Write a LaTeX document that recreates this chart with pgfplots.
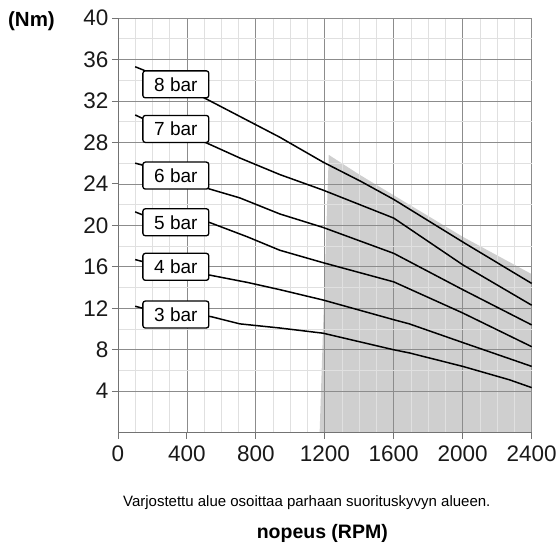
\documentclass[border=0pt]{standalone}
\usepackage{pgfplots}
\pgfplotsset{compat=1.18}
\usepackage{fontspec}
\setmainfont{Liberation Sans}
\begin{document}
\begin{tikzpicture}
\begin{axis}[
  set layers,
  at={(0pt,0pt)}, anchor=south west,
  width=414pt, height=415pt, scale only axis,
  xmin=0, xmax=2400, ymin=0, ymax=40,
  axis x line*=bottom, axis y line*=left,
  axis line style={black!55, line width=0.8pt},
  xtick={0,400,...,2400}, ytick={4,8,...,40},
  minor x tick num=3, minor y tick num=1,
  grid=both,
  major grid style={black!45, line width=0.7pt},
  minor grid style={black!12, line width=0.6pt},
  tick align=outside, major tick length=6pt, minor tick length=0pt,
  tick style={black!55, line width=0.8pt},
  /pgf/number format/assume math mode=true,
  /pgf/number format/1000 sep={},
  ticklabel style={font=\fontsize{22.5}{22.5}\selectfont, text=black!90},
  xticklabel style={yshift=-4pt},
  clip=false,
]
\addplot[draw=none, fill=black!22, fill opacity=0.85, on layer=axis background] coordinates {
 (1170,0) (1223,26.8) (1400,24.9) (1600,22.9) (2000,18.9) (2400,15.3) (2400,0)} -- cycle;

\addplot[black, line width=1.5pt] coordinates {(100,35.3)(145,35.0)(500,32.3)(939,28.5)(1190,26.1)(1414,24.2)(1600,22.5)(2000,18.4)(2400,14.4)};
\addplot[black, line width=1.5pt] coordinates {(100,30.65)(145,30.3)(514,27.95)(707,26.5)(939,24.9)(1190,23.4)(1600,20.7)(2000,16.2)(2400,12.3)};
\addplot[black, line width=1.5pt] coordinates {(100,26.0)(145,25.8)(533,23.5)(707,22.65)(939,21.1)(1190,19.8)(1600,17.3)(2000,13.8)(2400,10.4)};
\addplot[black, line width=1.5pt] coordinates {(100,21.3)(145,21.0)(528,20.3)(750,18.9)(939,17.6)(1190,16.4)(1600,14.55)(2000,11.55)(2400,8.3)};
\addplot[black, line width=1.5pt] coordinates {(100,16.7)(145,16.5)(533,15.2)(750,14.5)(939,13.8)(1190,12.8)(1600,10.9)(1690,10.5)(2000,8.7)(2400,6.4)};
\addplot[black, line width=1.5pt] coordinates {(100,12.2)(145,12.0)(539,11.2)(707,10.5)(939,10.1)(1190,9.6)(1600,8.0)(1690,7.7)(2000,6.4)(2272,5.1)(2400,4.35)};

\tikzset{lbl/.style={draw=black, fill=white, line width=1.3pt, rounded corners=2.5pt,
  minimum width=66pt, minimum height=27pt, inner sep=0pt,
  font=\fontsize{19}{19}\selectfont}}
\node[lbl] at (axis cs:336,33.6) {8 bar};
\node[lbl] at (axis cs:336,29.3) {7 bar};
\node[lbl] at (axis cs:336,24.8) {6 bar};
\node[lbl] at (axis cs:336,20.3) {5 bar};
\node[lbl] at (axis cs:336,16.0) {4 bar};
\node[lbl] at (axis cs:336,11.4) {3 bar};
\end{axis}
\node[font=\bfseries\fontsize{20.5}{20.5}\selectfont] at (-86.5pt,412pt) {(Nm)};
\node[anchor=base, font=\fontsize{15}{15}\selectfont] at (189pt,-74pt) {Varjostettu alue osoittaa parhaan suorituskyvyn alueen.};
\node[anchor=base, font=\bfseries\fontsize{19.5}{19.5}\selectfont] at (204.5pt,-106pt) {nopeus (RPM)};
\path[use as bounding box] (-118pt,-114pt) rectangle (442pt,433pt);
\end{tikzpicture}
\end{document}
